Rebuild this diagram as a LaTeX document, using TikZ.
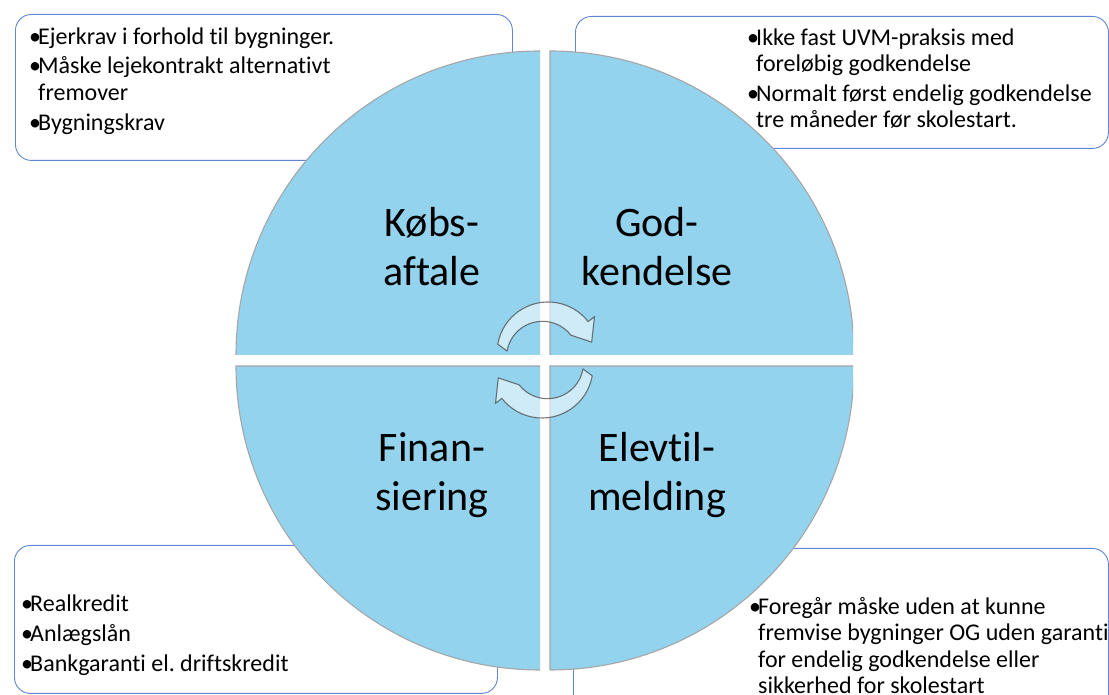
\documentclass[tikz,border=0pt]{standalone}
\usepackage{fontspec}
\setmainfont{Carlito}[Ligatures=CommonOff]
\definecolor{quad}{RGB}{147,211,238}
\definecolor{boxline}{RGB}{95,135,212}
\newcommand\blt{\makebox[9pt][l]{•}}
\newcommand\ind{\hspace*{9pt}}
\frenchspacing
\begin{document}
\begin{tikzpicture}[x=1pt,y=1pt,
  infobox/.style={draw=boxline, line width=0.9pt, rounded corners=16pt, fill=white, anchor=north west, inner sep=0pt},
  quadfill/.style={fill=quad},
  rim/.style={draw=gray!70, line width=1.1pt},
  qlabel/.style={font=\fontsize{42}{49}\selectfont, align=center, anchor=base, inner sep=0pt},
  btext/.style={anchor=base west, align=left, inner sep=0pt},
  cyc/.style={fill=white, fill opacity=0.55, draw=gray!60!black, draw opacity=0.75, line width=1.1pt, line join=round}
]
\useasboundingbox (0,0) rectangle (1109,695);
\clip (0,0) rectangle (1109,695);

% information boxes
\node[infobox, minimum width=497pt, minimum height=146pt] (boxA) at (15,681) {};
\node[infobox, minimum width=533pt, minimum height=132pt] (boxB) at (575,679) {};
\node[infobox, minimum width=483pt, minimum height=148pt] (boxC) at (14,150) {};
\node[infobox, minimum width=535pt, minimum height=180pt] (boxD) at (573,147) {};

% quadrants
\begin{scope}
\clip (0,0) rectangle (853,695);
\fill[quadfill] (540,340) -- (540,644) arc[start angle=90, end angle=180, radius=304] -- cycle;
\fill[quadfill] (550,340) -- (854,340) arc[start angle=0, end angle=90, radius=304] -- cycle;
\fill[quadfill] (540,329) -- (236,329) arc[start angle=180, end angle=270, radius=304] -- cycle;
\fill[quadfill] (550,329) -- (550,25) arc[start angle=270, end angle=360, radius=304] -- cycle;
\draw[rim] (540,644) arc[start angle=90, end angle=180, radius=304];
\draw[rim] (550,340) -- (550,644) arc[start angle=90, end angle=0, radius=304];
\draw[rim] (540,329) -- (236,329) arc[start angle=180, end angle=270, radius=304];
\draw[rim] (550,25) -- (550,329) -- (854,329) arc[start angle=360, end angle=270, radius=304];
\end{scope}

% circular arrows
\begin{scope}[shift={(548,342)}]
\draw[cyc] (170:51) arc[start angle=170, end angle=38, radius=51] -- (38:59) -- (14:45) -- (38:29)
  arc[start angle=38, end angle=170, radius=36] -- cycle;
\end{scope}
\begin{scope}[shift={(542,328)}, rotate=180]
\draw[cyc] (170:51) arc[start angle=170, end angle=38, radius=51] -- (38:59) -- (14:45) -- (38:29)
  arc[start angle=38, end angle=170, radius=36] -- cycle;
\end{scope}

% quadrant labels (anchor = baseline of the last line)
\node[qlabel] (qA) at (432,409) {Købs-\\aftale};
\node[qlabel] (qB) at (657,409) {God-\\kendelse};
\node[qlabel] (qC) at (432,184) {Finan-\\siering};
\node[qlabel] (qD) at (657,184) {Elevtil-\\melding};

% box texts (anchor = baseline of the last line)
\node[btext, font=\fontsize{24}{27}\selectfont] (tA) at (29,564)
  {\blt Ejerkrav i forhold til bygninger.\\[2pt]
   \blt Måske lejekontrakt alternativt\\
   \ind fremover\\[3pt]
   \blt Bygningskrav};
\node[btext, font=\fontsize{24}{26}\selectfont] (tB) at (747,567)
  {\blt Ikke fast UVM-praksis med\\
   \ind foreløbig godkendelse\\[4pt]
   \blt Normalt først endelig godkendelse\\
   \ind tre måneder før skolestart.};
\node[btext, font=\fontsize{24}{26}\selectfont] (tC) at (21,23)
  {\blt Realkredit\\[4pt]
   \blt Anlægslån\\[4pt]
   \blt Bankgaranti el. driftskredit};
\node[btext, font=\fontsize{24}{26.5}\selectfont] (tD) at (749,1)
  {\blt Foregår måske uden at kunne\\
   \ind fremvise bygninger OG uden garanti\\
   \ind for endelig godkendelse eller\\
   \ind sikkerhed for skolestart};
\end{tikzpicture}
\end{document}
